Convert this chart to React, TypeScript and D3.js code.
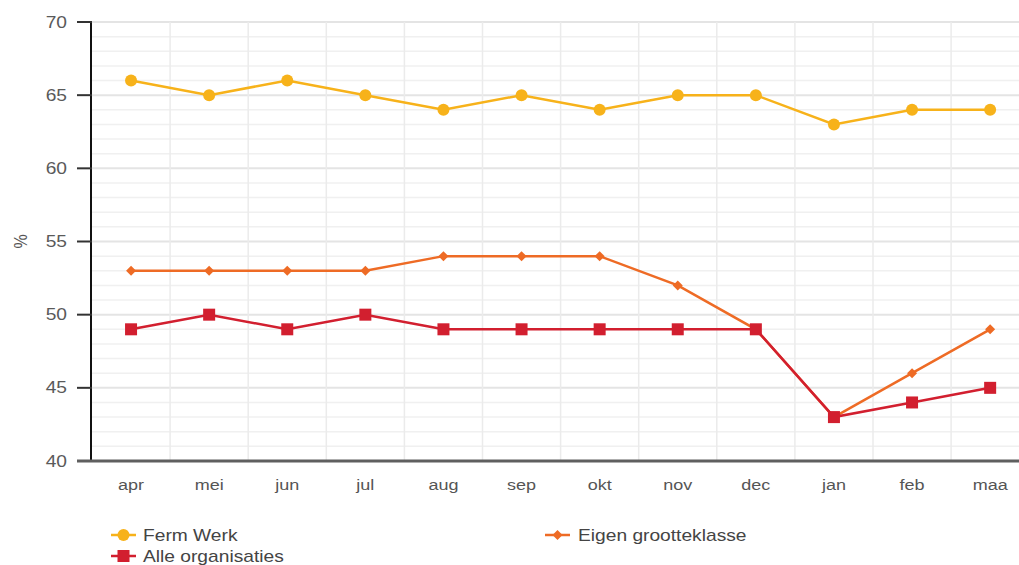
import React from "react";
import * as d3 from "d3";

const months = ["apr", "mei", "jun", "jul", "aug", "sep", "okt", "nov", "dec", "jan", "feb", "maa"];
const fermWerk = [66, 65, 66, 65, 64, 65, 64, 65, 65, 63, 64, 64];
const eigenGrootteklasse = [53, 53, 53, 53, 54, 54, 54, 52, 49, 43, 46, 49];
const alleOrganisaties = [49, 50, 49, 50, 49, 49, 49, 49, 49, 43, 44, 45];
const yTicks = [40, 45, 50, 55, 60, 65, 70];

const W = 1019;
const H = 565;
const left = 92;
const bandW = 78.1;
const top = 22;
const bottom = 461;
const SX = 1.2;

const COL_FERM = "#f7b21a";
const COL_EIGEN = "#ee6b25";
const COL_ALLE = "#d21f2f";

function T(props: { x: number; y: number; anchor?: string; size: number; fill: string; children: React.ReactNode; dy?: string }) {
  return (
    <text
      transform={`translate(${props.x},${props.y}) scale(${SX},1)`}
      dy={props.dy}
      textAnchor={props.anchor || "start"}
      fontSize={props.size}
      fill={props.fill}
    >
      {props.children}
    </text>
  );
}

export default function App() {
  const x = d3
    .scaleBand<string>()
    .domain(months)
    .range([left, left + bandW * months.length])
    .padding(0);
  const y = d3.scaleLinear().domain([40, 70]).range([bottom, top]);
  const cx = (m: string) => (x(m) as number) + x.bandwidth() / 2;
  const line = d3
    .line<number>()
    .x((_, i) => cx(months[i]))
    .y((v) => y(v));

  const minor = d3.range(41, 70).filter((v) => v % 5 !== 0);
  const font = "'Liberation Sans', Arial, sans-serif";

  const diamond = (px: number, py: number, r: number) =>
    `M${px},${py - r}L${px + r},${py}L${px},${py + r}L${px - r},${py}Z`;

  return (
    <svg
      width={W}
      height={H}
      style={{ position: "absolute", left: 0, top: 0, background: "#fff" }}
      fontFamily={font}
    >
      {/* grid */}
      {minor.map((v) => (
        <line key={"mn" + v} x1={left} x2={W} y1={y(v)} y2={y(v)} stroke="#f0f0f0" strokeWidth={1.5} />
      ))}
      {yTicks.map((v) => (
        <line key={"mj" + v} x1={left} x2={W} y1={y(v)} y2={y(v)} stroke="#e4e4e4" strokeWidth={2} />
      ))}
      {months.slice(1).map((m) => (
        <line key={"vg" + m} x1={x(m)} x2={x(m)} y1={top} y2={bottom} stroke="#ebebeb" strokeWidth={1.5} />
      ))}
      {/* axes */}
      <line x1={left - 1} x2={left - 1} y1={top - 1} y2={bottom} stroke="#111" strokeWidth={2} />
      {yTicks.map((v) => (
        <g key={"yt" + v}>
          <line x1={77} x2={left} y1={y(v)} y2={y(v)} stroke="#333" strokeWidth={2} />
          <T x={67} y={y(v)} dy="0.35em" anchor="end" size={16} fill="#5a5a5a">
            {v}
          </T>
        </g>
      ))}
      <line x1={77} x2={W} y1={bottom} y2={bottom} stroke="#5f5f5f" strokeWidth={3} />
      {months.map((m) => (
        <T key={"xl" + m} x={cx(m)} y={490} anchor="middle" size={15} fill="#555">
          {m}
        </T>
      ))}
      <text
        transform={`translate(27,${y(55)}) rotate(-90) scale(1,${SX})`}
        textAnchor="middle"
        fontSize={16}
        fill="#555"
      >
        %
      </text>

      {/* series */}
      <path d={line(fermWerk) || ""} fill="none" stroke={COL_FERM} strokeWidth={2.5} />
      {fermWerk.map((v, i) => (
        <circle key={"fc" + i} cx={cx(months[i])} cy={y(v)} r={6} fill={COL_FERM} />
      ))}
      <path d={line(eigenGrootteklasse) || ""} fill="none" stroke={COL_EIGEN} strokeWidth={2.5} />
      {eigenGrootteklasse.map((v, i) => (
        <path key={"ed" + i} d={diamond(cx(months[i]), y(v), 5)} fill={COL_EIGEN} />
      ))}
      <path d={line(alleOrganisaties) || ""} fill="none" stroke={COL_ALLE} strokeWidth={2.5} />
      {alleOrganisaties.map((v, i) => (
        <rect key={"ar" + i} x={cx(months[i]) - 6} y={y(v) - 6} width={12} height={12} fill={COL_ALLE} />
      ))}

      {/* legend */}
      <g>
        <line x1={111} x2={136} y1={535} y2={535} stroke={COL_FERM} strokeWidth={2.5} />
        <circle cx={123.5} cy={535} r={6} fill={COL_FERM} />
        <T x={143} y={535} dy="0.35em" size={16} fill="#444">Ferm Werk</T>

        <line x1={545} x2={570} y1={535} y2={535} stroke={COL_EIGEN} strokeWidth={2.5} />
        <path d={diamond(557.5, 535, 5)} fill={COL_EIGEN} />
        <T x={578} y={535} dy="0.35em" size={16} fill="#444">Eigen grootteklasse</T>

        <line x1={111} x2={136} y1={556} y2={556} stroke={COL_ALLE} strokeWidth={2.5} />
        <rect x={117.5} y={550} width={12} height={12} fill={COL_ALLE} />
        <T x={143} y={556} dy="0.35em" size={16} fill="#444">Alle organisaties</T>
      </g>
    </svg>
  );
}
